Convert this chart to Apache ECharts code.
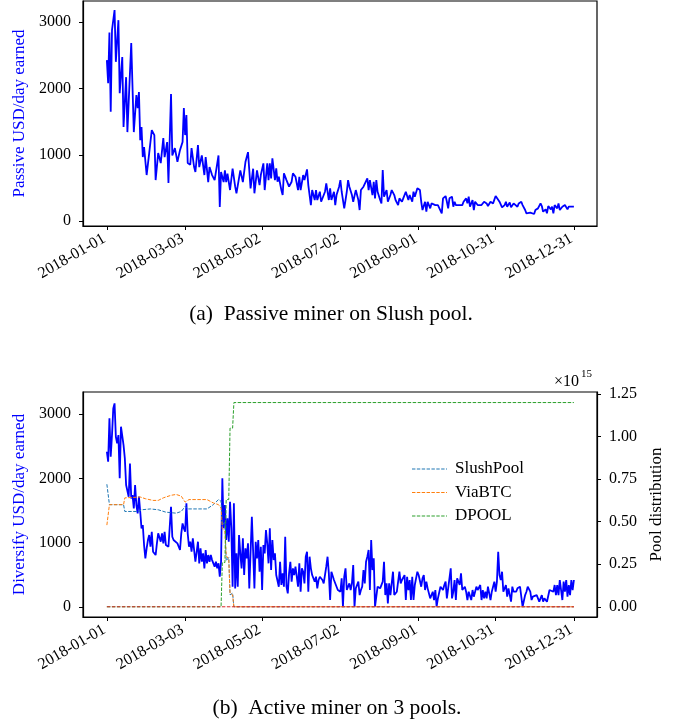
<!DOCTYPE html>
<html>
<head>
<meta charset="utf-8">
<script src="https://cdn.jsdelivr.net/npm/echarts@6/dist/echarts.min.js"></script>
<style>
  html, body { margin: 0; padding: 0; background: #fff; }
  #chart { width: 678px; height: 726px; }
</style>
</head>
<body>
<div id="chart"></div>
<script>
// x positions are days since 2018-01-01
var tickDays = [0, 61, 121, 182, 243, 303, 364];
var tickLabels = ["2018-01-01", "2018-03-03", "2018-05-02", "2018-07-02", "2018-09-01", "2018-10-31", "2018-12-31"];
var usdTicks = [0, 1000, 2000, 3000];
var shareTicks = [0, 0.25, 0.5, 0.75, 1.0, 1.25];

// (a) passive miner, USD/day
var passiveDays = [
  0, 1, 2, 3, 4, 6, 7, 9, 10, 12, 13, 15, 16, 19, 21, 23, 24, 25, 26, 27, 28, 29, 31, 33, 35, 37, 38, 40,
  42, 44, 45, 47, 48, 50, 51, 53, 55, 57, 59, 60, 61, 62, 63, 65, 66, 68, 69, 71, 72, 74, 76, 77, 79, 80,
  82, 84, 87, 88, 89, 91, 92, 93, 94, 96, 98, 100, 101, 104, 106, 108, 110, 112, 114, 115, 117, 119, 120,
  122, 123, 125, 126, 127, 128, 129, 131, 132, 133, 134, 136, 137, 138, 139, 140, 142, 144, 145, 147, 149,
  150, 151, 153, 154, 156, 157, 159, 160, 162, 163, 164, 166, 167, 170, 171, 173, 174, 175, 177, 178, 179,
  181, 182, 183, 185, 186, 187, 188, 189, 191, 192, 194, 196, 197, 198, 200, 201, 203, 204, 205, 207, 208,
  209, 210, 211, 213, 214, 215, 216, 218, 219, 221, 222, 224, 225, 227, 228, 230, 231, 233, 235, 236, 238,
  239, 240, 241, 242, 244, 245, 246, 248, 249, 250, 252, 253, 254, 256, 257, 258, 259, 261, 262, 264, 265,
  266, 267, 269, 270, 271, 272, 274, 275, 277, 278, 280, 281, 282, 283, 285, 286, 287, 289, 290, 292, 294,
  296, 297, 299, 301, 303, 304, 306, 307, 308, 310, 311, 312, 314, 315, 317, 318, 320, 321, 323, 324, 326,
  327, 328, 330, 331, 333, 334, 336, 337, 338, 339, 340, 342, 343, 344, 346, 347, 348, 349, 351, 352, 353,
  355, 356, 357, 359, 360, 361, 363, 364
];
var passiveUsd = [
  2428, 2081, 2845, 1648, 2880, 3182, 2402, 3031, 1930, 2473, 1418, 2171, 1342, 2684, 1342, 1900, 1704, 1945, 1221, 1418, 965, 1116, 694, 1025, 1372, 1297, 618, 1025,
  875, 1252, 965, 1191, 573, 1915, 990, 1100, 895, 1070, 1191, 1704, 1297, 1598, 875, 850, 1100, 814, 740, 1146, 814, 990, 694, 965, 588, 814,
  694, 618, 990, 211, 739, 588, 764, 588, 714, 468, 790, 518, 418, 764, 588, 890, 1040, 493, 790, 418, 764, 543, 694,
  870, 467, 870, 618, 870, 643, 945, 618, 794, 593, 668, 467, 392, 719, 744, 618, 518, 593, 719, 668, 467,
  668, 467, 694, 618, 779, 543, 241, 467, 317, 467, 317, 442, 291, 442, 568, 317, 493, 317, 442, 241, 392,
  518, 618, 442, 191, 317, 442, 618, 518, 392, 291, 467, 317, 166, 467, 518, 493, 643, 467, 618, 392, 593,
  342, 618, 442, 317, 266, 769, 367, 467, 291, 392, 467, 392, 317, 241, 342, 291, 342, 442, 317, 392, 291,
  442, 367, 342, 493, 467, 291, 166, 291, 141, 291, 191, 266, 291, 241, 266, 241, 216, 116, 342, 377, 291,
  191, 342, 367, 216, 291, 241, 241, 266, 241, 291, 342, 266, 367, 216, 317, 166, 291, 241, 266, 241, 291,
  266, 226, 291, 266, 377, 357, 291, 307, 206, 241, 291, 216, 281, 206, 266, 291, 216, 266, 291, 241, 166,
  116, 141, 126, 141, 106, 166, 191, 166, 266, 226, 141, 176, 116, 226, 176, 216, 116, 241, 191, 266, 166,
  216, 191, 241, 176, 216, 241, 216, 216
];

// (b) active miner, USD/day
var activeDays = [
  0, 1, 2, 3, 4, 5, 6, 7, 8, 9, 10, 11, 13, 14, 15, 17, 18, 19, 20, 21, 22, 23, 24, 25, 26, 27, 28, 29, 30,
  31, 32, 33, 34, 35, 36, 38, 39, 40, 42, 43, 44, 45, 46, 47, 48, 50, 51, 52, 53, 55, 56, 57, 58, 59, 60,
  61, 62, 63, 64, 65, 66, 67, 69, 70, 71, 72, 73, 74, 75, 76, 77, 78, 79, 80, 81, 82, 83, 84, 85, 86, 87,
  88, 89, 90, 91, 92, 93, 94, 95, 96, 97, 98, 99, 100, 101, 102, 103, 104, 105, 106, 107, 108, 109, 110,
  111, 113, 114, 115, 116, 117, 118, 119, 120, 121, 122, 123, 124, 125, 126, 127, 128, 129, 130, 131, 132,
  133, 134, 135, 136, 137, 138, 139, 140, 141, 142, 143, 144, 145, 146, 147, 149, 150, 151, 152, 153, 154,
  155, 156, 157, 158, 159, 160, 161, 162, 163, 164, 165, 166, 167, 168, 169, 170, 171, 172, 173, 174, 175,
  176, 177, 178, 180, 181, 182, 183, 184, 185, 186, 187, 188, 189, 190, 191, 192, 193, 194, 195, 196, 197,
  198, 199, 200, 201, 202, 203, 204, 205, 206, 207, 208, 209, 211, 212, 213, 214, 215, 216, 217, 218, 219,
  220, 221, 222, 223, 224, 225, 226, 227, 228, 229, 230, 232, 233, 234, 235, 236, 237, 238, 239, 240, 241,
  242, 243, 245, 246, 247, 248, 249, 250, 252, 253, 254, 255, 256, 257, 258, 260, 261, 262, 263, 264, 265,
  266, 268, 269, 270, 271, 272, 273, 274, 275, 276, 277, 279, 280, 281, 282, 283, 284, 285, 286, 288, 289,
  290, 291, 292, 293, 294, 295, 296, 297, 299, 300, 301, 302, 303, 304, 305, 306, 307, 308, 309, 310, 311,
  312, 313, 315, 316, 317, 318, 319, 320, 322, 323, 324, 326, 327, 328, 330, 331, 332, 333, 335, 336, 337,
  339, 340, 341, 343, 344, 345, 346, 348, 349, 350, 351, 352, 353, 355, 356, 357, 358, 359, 360, 361, 362,
  363, 364
];
var activeUsd = [
  2414, 2258, 2932, 2336, 2673, 3087, 3165, 2647, 2543, 2673, 2000, 2802, 2517, 2310, 1896, 1715, 2232, 1689, 1740, 1533, 1896, 1585, 1456, 1715, 1481, 1223, 1274, 963, 757,
  912, 1041, 1119, 937, 1170, 859, 808, 989, 1145, 1015, 1145, 989, 1170, 963, 963, 937, 1559, 1093, 1041, 1067, 989, 937, 886, 1145, 1300, 1223,
  1170, 1611, 1145, 937, 1015, 859, 1067, 704, 859, 1015, 679, 912, 704, 834, 601, 886, 679, 808, 704, 808, 730, 704, 627, 704, 601, 679,
  471, 704, 2000, 1223, 1585, 1041, 1378, 1015, 1637, 1223, 316, 1611, 290, 834, 316, 1119, 834, 601, 1067, 497, 912, 757, 989,
  290, 1404, 859, 290, 1015, 757, 1041, 549, 937, 264, 963, 834, 1197, 989, 679, 1222, 575, 1041, 730, 834, 497,
  471, 316, 704, 342, 523, 316, 1093, 316, 212, 523, 704, 394, 601, 497, 627, 316, 679, 238, 601, 549, 368,
  782, 859, 238, 782, 601, 497, 471, 394, 471, 290, 420, 471, 471, 420, 368, 394, 627, 782, 523, 109, 549,
  549, 420, 394, 264, 290, 238, 446, 5, 471, 601, 264, 290, 368, 264, 368, 653, 5, 290, 264, 394, 186,
  264, 316, 575, 368, 704, 782, 886, 264, 1041, 575, 756, 5, 316, 316, 290, 290, 394, 704, 186, 368, 57,
  368, 186, 368, 549, 186, 186, 238, 238, 549, 368, 420, 497, 109, 471, 264, 420, 109, 471, 109, 342, 316,
  549, 497, 316, 446, 497, 264, 394, 290, 135, 109, 238, 109, 264, 5, 135, 316, 316, 264, 342, 394, 135,
  290, 601, 135, 238, 420, 109, 446, 471, 342, 523, 264, 316, 238, 109, 238, 212, 109, 264, 161, 316, 264,
  238, 342, 109, 264, 135, 238, 135, 316, 109, 238, 316, 394, 238, 394, 860, 497, 420, 549, 238, 212, 342,
  161, 290, 83, 316, 238, 264, 238, 290, 316, 290, 5, 186, 238, 316, 238, 109, 161, 135, 186, 161, 83,
  186, 83, 135, 83, 83, 264, 238, 238, 342, 186, 342, 186, 420, 109, 394, 238, 420, 161, 342, 186, 420,
  264, 420
];

// pool distribution (x 1e15)
var slushDays = [0, 1, 2, 13, 14, 25, 27, 34, 40, 46, 54, 58, 61, 63, 78, 83, 87, 89, 90, 92, 93, 95, 96, 98, 99, 364];
var slushShare = [0.72, 0.72, 0.60, 0.60, 0.56, 0.56, 0.57, 0.575, 0.57, 0.556, 0.55, 0.56, 0.59, 0.575, 0.575, 0.60, 0.63, 0.62, 0.48, 0.50, 0.27, 0.29, 0.07, 0.08, 0, 0];
var viaDays = [0, 1, 2, 13, 14, 26, 30, 36, 40, 44, 50, 54, 58, 61, 64, 78, 83, 87, 89, 90, 92, 93, 95, 96, 98, 99, 364];
var viaShare = [0.48, 0.48, 0.60, 0.60, 0.64, 0.645, 0.635, 0.625, 0.625, 0.64, 0.655, 0.66, 0.65, 0.615, 0.63, 0.63, 0.61, 0.60, 0.58, 0.46, 0.44, 0.30, 0.28, 0.08, 0.07, 0, 0];
var dpoolDays = [0, 89, 90, 92, 93, 95, 96, 98, 99, 364];
var dpoolShare = [0, 0, 0.26, 0.26, 0.63, 0.63, 1.05, 1.05, 1.2, 1.2];
var otherDays = [0, 364];
var otherShare = [0, 0];

var serif = "Liberation Serif";
// dashed stroke for the legend samples
var dashIcon = "path://M0,0h3.5v1h-3.5z M5,0h3.5v1h-3.5z M10,0h3.5v1h-3.5z M15,0h3.5v1h-3.5z M20,0h3.5v1h-3.5z M25,0h3.5v1h-3.5z M30,0h3.5v1h-3.5z M35,0h1v1h-1z";

function pairs(days, vals) {
  return days.map(function (d, i) { return [d, vals[i]]; });
}

function dateAxis(gridIndex) {
  return {
    type: "value", gridIndex: gridIndex, min: -18.6, max: 382,
    axisLine: { show: true, onZero: false, lineStyle: { color: "#000", width: 1.2 } },
    axisTick: { show: true, customValues: tickDays, length: 4, lineStyle: { color: "#000" } },
    axisLabel: {
      customValues: tickDays, rotate: 30, margin: 10, padding: [0, 3, 0, 0],
      fontFamily: serif, fontSize: 16, color: "#000",
      formatter: function (v) { return tickLabels[tickDays.indexOf(v)]; }
    },
    splitLine: { show: false }
  };
}

function usdAxis(gridIndex, min, max, name) {
  return {
    type: "value", gridIndex: gridIndex, min: min, max: max,
    name: name, nameLocation: "middle", nameGap: 44, nameRotate: 90,
    nameTextStyle: { color: "#0000ff", fontFamily: serif, fontSize: 17 },
    axisLine: { show: true, onZero: false, lineStyle: { color: "#000", width: 1.2 } },
    axisTick: { show: true, customValues: usdTicks, length: 4, lineStyle: { color: "#000" } },
    axisLabel: {
      customValues: usdTicks, margin: 12, fontFamily: serif, fontSize: 16, color: "#000",
      formatter: function (v) { return String(v); }
    },
    splitLine: { show: false }
  };
}

function poolLine(name, days, vals, color) {
  return {
    name: name, type: "line", xAxisIndex: 1, yAxisIndex: 2,
    data: pairs(days, vals), symbol: "none", z: 3,
    lineStyle: { color: color, width: 1, type: [3.5, 1.5] }, itemStyle: { color: color }
  };
}

var chart = echarts.init(document.getElementById("chart"));
chart.setOption({
  backgroundColor: "#fff",
  animation: false,
  grid: [
    { left: 83, top: 1, width: 514, height: 225, show: true, borderColor: "#000", borderWidth: 1.2 },
    { left: 83, top: 392, width: 514, height: 225, show: true, borderColor: "#000", borderWidth: 1.2 }
  ],
  xAxis: [dateAxis(0), dateAxis(1)],
  yAxis: [
    usdAxis(0, -75, 3320, "Passive USD/day earned"),
    usdAxis(1, -155, 3342, "Diversify USD/day earned"),
    {
      type: "value", gridIndex: 1, position: "right", min: -0.06, max: 1.262,
      name: "Pool distribution", nameLocation: "middle", nameGap: 47, nameRotate: 90,
      nameTextStyle: { color: "#000", fontFamily: serif, fontSize: 17 },
      axisLine: { show: true, onZero: false, lineStyle: { color: "#000", width: 1.2 } },
      axisTick: { show: true, customValues: shareTicks, length: 4, lineStyle: { color: "#000" } },
      axisLabel: {
        customValues: shareTicks, margin: 12, fontFamily: serif, fontSize: 16, color: "#000",
        formatter: function (v) { return v.toFixed(2); }
      },
      splitLine: { show: false }
    }
  ],
  legend: {
    data: ["SlushPool", "ViaBTC", "DPOOL"],
    icon: dashIcon,
    orient: "vertical", left: 407, top: 455,
    itemWidth: 35, itemHeight: 1.5, itemGap: 5.5,
    textStyle: { fontFamily: serif, fontSize: 17, lineHeight: 18, color: "#000", padding: [0, 0, 0, 3] }
  },
  series: [
    {
      type: "line", xAxisIndex: 0, yAxisIndex: 0, data: pairs(passiveDays, passiveUsd),
      symbol: "none", lineStyle: { color: "#0000ff", width: 1.8 }
    },
    {
      type: "line", xAxisIndex: 1, yAxisIndex: 1, data: pairs(activeDays, activeUsd),
      symbol: "none", lineStyle: { color: "#0000ff", width: 1.8 }
    },
    poolLine("SlushPool", slushDays, slushShare, "#1f77b4"),
    poolLine("ViaBTC", viaDays, viaShare, "#ff7f0e"),
    poolLine("DPOOL", dpoolDays, dpoolShare, "#2ca02c"),
    poolLine("other", otherDays, otherShare, "#d62728")
  ],
  graphic: [
    { type: "text", x: 554, y: 374, style: { text: "\u00d710", font: "16px 'Liberation Serif'", fill: "#000" } },
    { type: "text", x: 581, y: 369, style: { text: "15", font: "11px 'Liberation Serif'", fill: "#000" } },
    { type: "text", x: 331, y: 314, style: { text: "(a)  Passive miner on Slush pool.", font: "21.5px 'Liberation Serif'", fill: "#000", textAlign: "center", textVerticalAlign: "middle" } },
    { type: "text", x: 337, y: 708, style: { text: "(b)  Active miner on 3 pools.", font: "21.5px 'Liberation Serif'", fill: "#000", textAlign: "center", textVerticalAlign: "middle" } }
  ]
});
</script>
</body>
</html>
